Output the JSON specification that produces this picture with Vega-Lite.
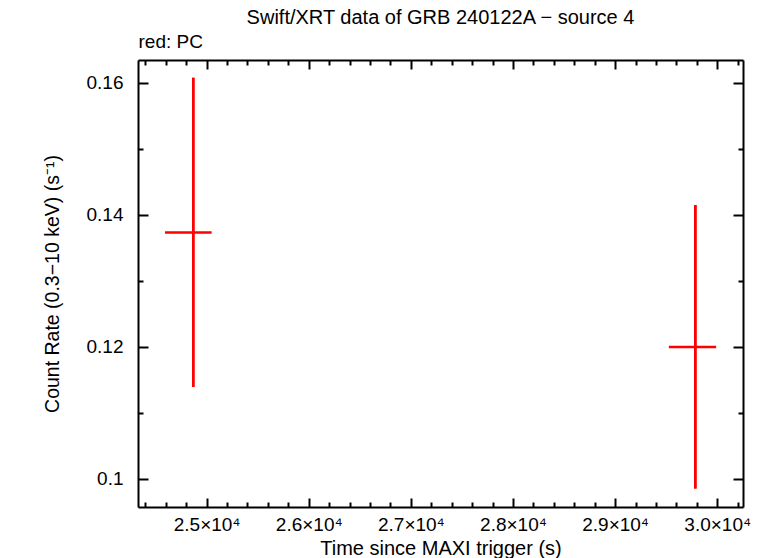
{
  "$schema": "https://vega.github.io/schema/vega-lite/v6.json",
  "width": 605,
  "height": 447,
  "autosize": {"type": "none"},
  "padding": {"left": 138, "top": 60, "right": 16, "bottom": 51},
  "background": "white",
  "config": {
    "font": "Liberation Sans",
    "view": {"stroke": null},
    "axis": {
      "grid": false,
      "domainColor": "black",
      "domainWidth": 2,
      "tickColor": "black",
      "tickWidth": 2,
      "labelFontSize": 19,
      "labelColor": "black",
      "titleFontSize": 20,
      "titleFontWeight": "normal",
      "titleColor": "black",
      "labelOverlap": false,
      "labelFlush": false
    }
  },
  "title": {
    "text": "Swift/XRT data of GRB 240122A − source 4",
    "fontSize": 20,
    "fontWeight": "normal",
    "color": "black",
    "anchor": "middle",
    "offset": 4
  },
  "data": {
    "values": [
      {"t": 24869, "tlo": 24592, "thi": 25049, "r": 0.13733, "rlo": 0.11394, "rhi": 0.16076},
      {"t": 29785, "tlo": 29526, "thi": 29989, "r": 0.12, "rlo": 0.09855, "rhi": 0.14147}
    ]
  },
  "resolve": {"axis": {"x": "independent", "y": "independent"}},
  "layer": [
    {
      "mark": {"type": "rule", "color": "#ff0000", "strokeWidth": 2.5},
      "encoding": {
        "x": {
          "field": "t", "type": "quantitative",
          "scale": {"domain": [24328, 30252], "nice": false, "zero": false},
          "axis": {
            "orient": "bottom",
            "values": [24400,24600,24800,25000,25200,25400,25600,25800,26000,26200,26400,26600,26800,27000,27200,27400,27600,27800,28000,28200,28400,28600,28800,29000,29200,29400,29600,29800,30000,30200],
            "labelExpr": "datum.value % 1000 === 0 ? format(datum.value/10000, '.1f') + '×10⁴' : ''",
            "tickSize": {"condition": {"test": "datum.value % 1000 === 0", "value": -9}, "value": -5},
            "labelPadding": 17,
            "title": "Time since MAXI trigger (s)",
            "titlePadding": 0
          }
        },
        "y": {
          "field": "rlo", "type": "quantitative",
          "scale": {"domain": [0.09576, 0.16344], "nice": false, "zero": false},
          "axis": {
            "orient": "left",
            "values": [0.1, 0.11, 0.12, 0.13, 0.14, 0.15, 0.16],
            "labelExpr": "round(datum.value*100) % 2 === 0 ? format(datum.value, '.2~f') : ''",
            "tickSize": {"condition": {"test": "round(datum.value*100) % 2 === 0", "value": -10}, "value": -5},
            "labelPadding": 25,
            "title": "Count Rate (0.3−10 keV) (s⁻¹)",
            "titleFontSize": 19.5,
            "titlePadding": 24
          }
        },
        "y2": {"field": "rhi"}
      }
    },
    {
      "mark": {"type": "rule", "color": "#ff0000", "strokeWidth": 2.5},
      "encoding": {
        "x": {"field": "tlo", "type": "quantitative", "scale": {"domain": [24328, 30252], "nice": false, "zero": false}, "axis": null},
        "x2": {"field": "thi"},
        "y": {"field": "r", "type": "quantitative", "scale": {"domain": [0.09576, 0.16344], "nice": false, "zero": false}, "axis": null}
      }
    },
    {
      "mark": {"type": "rule", "color": "#ff0000", "strokeWidth": 2.5},
      "encoding": {
        "x": {
          "field": "t", "type": "quantitative",
          "scale": {"domain": [24328, 30252], "nice": false, "zero": false},
          "axis": {
            "orient": "top",
            "values": [24400,24600,24800,25000,25200,25400,25600,25800,26000,26200,26400,26600,26800,27000,27200,27400,27600,27800,28000,28200,28400,28600,28800,29000,29200,29400,29600,29800,30000,30200],
            "labels": false,
            "tickSize": {"condition": {"test": "datum.value % 1000 === 0", "value": -9}, "value": -5},
            "title": "red: PC",
            "titleFontSize": 19,
            "titleAnchor": "start",
            "titleAlign": "left",
            "titlePadding": 8
          }
        },
        "y": {
          "field": "rlo", "type": "quantitative",
          "scale": {"domain": [0.09576, 0.16344], "nice": false, "zero": false},
          "axis": {
            "orient": "right",
            "values": [0.1, 0.11, 0.12, 0.13, 0.14, 0.15, 0.16],
            "labels": false,
            "tickSize": {"condition": {"test": "round(datum.value*100) % 2 === 0", "value": -10}, "value": -5},
            "title": null
          }
        },
        "y2": {"field": "rhi"}
      }
    }
  ]
}
